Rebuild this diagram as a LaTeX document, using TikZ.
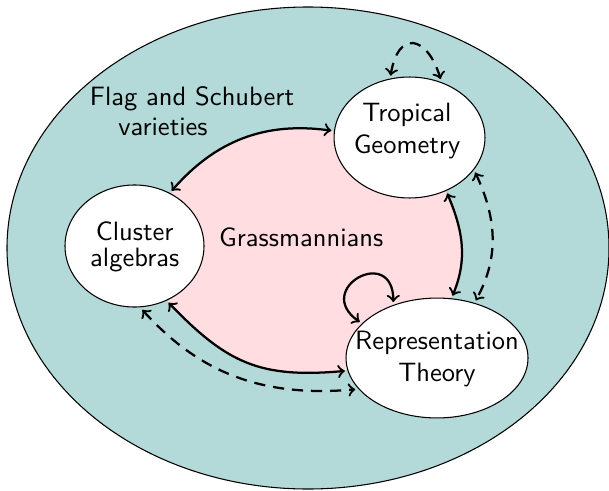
\documentclass[tikz,border=0pt]{standalone}
\usetikzlibrary{shapes.geometric}
\pgfdeclarelayer{background}
\pgfsetlayers{background,main}
\definecolor{tealbg}{RGB}{179,217,216}
\definecolor{pinkbg}{RGB}{255,221,224}
\begin{document}
\begin{tikzpicture}[x=0.377pt, y=0.377pt, font=\sffamily,
  bubble/.style={ellipse, draw=black, fill=white, line width=0.4pt, inner sep=0pt, outer sep=1.2pt},
  lbl/.style={inner sep=0pt, align=center},
  link/.style={line width=0.85pt, <->},
  dlink/.style={line width=0.85pt, <->, dash pattern=on 4.2pt off 3pt}]
\useasboundingbox (0,0) rectangle (609,490);
% ellipse nodes
\node[bubble, minimum width=56.9pt, minimum height=45.6pt] (trop) at (409.5,352.5) {};
\node[bubble, minimum width=52.4pt, minimum height=46pt] (clus) at (134.5,244) {};
\node[bubble, minimum width=68.6pt, minimum height=45.2pt] (rep) at (437,132) {};
% texts
\node[lbl] (troptxt) at (407,359) {Tropical\\Geometry};
\node[lbl] (clustxt) at (134.7,243) {Cluster\\[-2.2pt]algebras};
\node[lbl] (reptxt) at (437,130.8) {Representation\\Theory};
\node[inner sep=0pt, anchor=base] (grass) at (301.2,244) {Grassmannians};
\node[inner sep=0pt, align=left] (flag) at (192,379.2) {Flag and Schubert\\[-0.7pt]\hspace*{10.7pt}varieties};
% backgrounds
\begin{pgfonlayer}{background}
\draw[fill=tealbg, line width=0.4pt] (308,242) ellipse[x radius=301, y radius=241];
\fill[pinkbg] (clus.56) to[out=49,in=172] (trop.175) -- (trop.304)
  to[out=-67,in=67.5] (rep.76) -- (rep.188)
  to[out=185,in=-46,looseness=1.15] (clus.301) -- cycle;
\end{pgfonlayer}
% solid connectors
\draw[link] (clus.56) to[out=49,in=172] (trop.175);
\draw[link] (trop.304) to[out=-67,in=67.5] (rep.76);
\draw[link] (clus.301) to[out=-46,in=185,looseness=1.15] (rep.188);
\draw[link] (rep.128) to[out=90,in=145,looseness=3.8] (rep.155);
% dashed connectors
\draw[dlink] (trop.107) to[out=81,in=107,looseness=2.37] (trop.62);
\draw[dlink] (trop.332) to[out=-65,in=61.5] (rep.56);
\draw[dlink] (clus.277.5) to[out=-48,in=185] (rep.201);
\end{tikzpicture}
\end{document}
